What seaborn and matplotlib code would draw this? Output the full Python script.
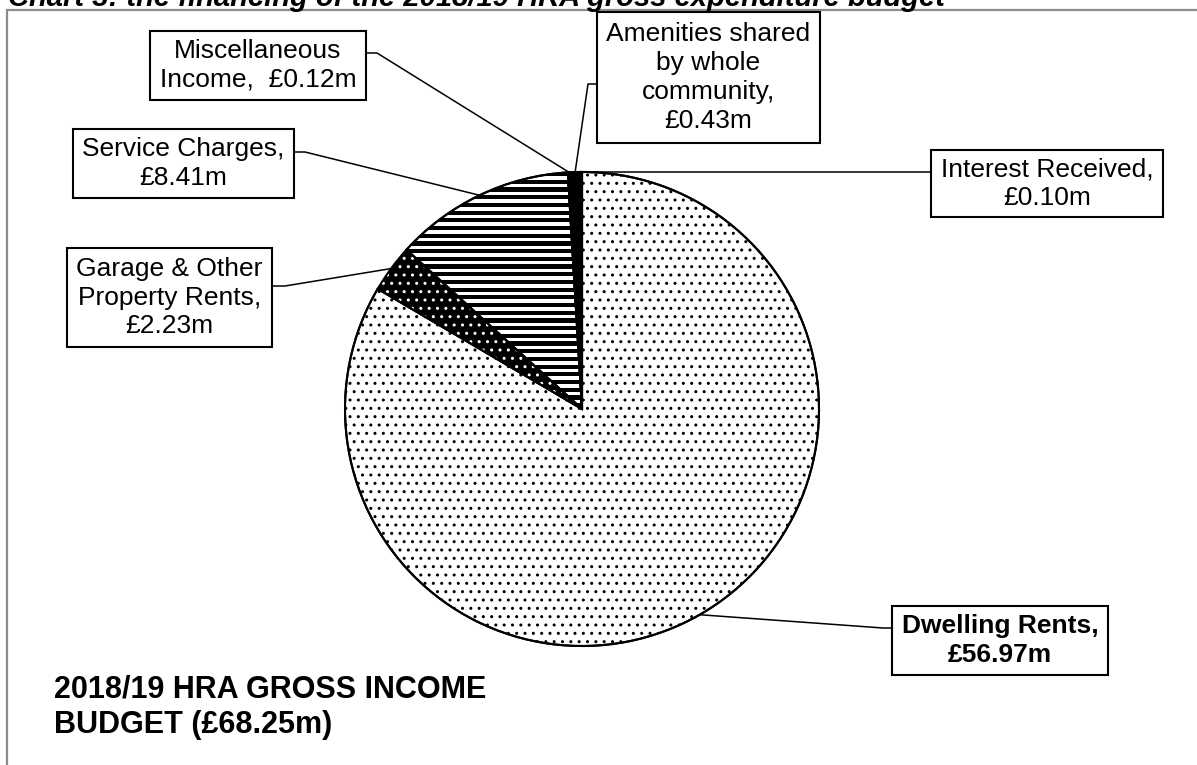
import numpy as np
import matplotlib
matplotlib.use("Agg")
import matplotlib.pyplot as plt
import seaborn as sns
from matplotlib.patches import Rectangle

# data (£m)
categories = ['Dwelling Rents', 'Garage & Other Property Rents', 'Service Charges',
              'Miscellaneous Income', 'Amenities shared by whole community', 'Interest Received']
values = [56.97, 2.23, 8.41, 0.12, 0.43, 0.10]
label_texts = ['Dwelling Rents,\n£56.97m',
               'Garage & Other\nProperty Rents,\n£2.23m',
               'Service Charges,\n£8.41m',
               'Miscellaneous\nIncome,  £0.12m',
               'Amenities shared\nby whole\ncommunity,\n£0.43m',
               'Interest Received,\n£0.10m']
total_label = '2018/19 HRA GROSS INCOME\nBUDGET (£68.25m)'
chart_title = 'Chart 3: the financing of the 2018/19 HRA gross expenditure budget'

sns.set_theme(style='white')
plt.rcParams['font.family'] = ['Liberation Sans', 'DejaVu Sans']
plt.rcParams['text.color'] = 'black'

W, H = 1197, 765
fig = plt.figure(figsize=(W / 100, H / 100), dpi=100)
ax = fig.add_axes([0, 0, 1, 1])

# pie, drawn in pixel-like data coords (y up)
cx, cy, r = 582, H - 409, 237
wedges, _ = ax.pie(values, startangle=90, counterclock=False, center=(cx, cy), radius=r,
                   wedgeprops=dict(edgecolor='black', linewidth=1.5))

# dwelling: black dots on white; garage: white dots on black; rest solid black
wedges[0].set_facecolor('white'); wedges[0].set_edgecolor('black'); wedges[0].set_hatch('..')
wedges[1].set_facecolor('black'); wedges[1].set_edgecolor('white'); wedges[1].set_hatch('..')
wedges[1].set_linewidth(0)
wedges[2].set_facecolor('white'); wedges[2].set_edgecolor('black')
for w in wedges[3:]:
    w.set_facecolor('black'); w.set_edgecolor('black')

# service charges: thick horizontal stripes clipped to its wedge
for ys in np.arange(cy - r, cy + r, 7.7):
    stripe = Rectangle((cx - r, ys), 2 * r, 4.2, fc='black', ec='none', zorder=wedges[2].get_zorder())
    ax.add_patch(stripe)
    stripe.set_clip_path(wedges[2])
# redraw outline on top
ax.pie(values, startangle=90, counterclock=False, center=(cx, cy), radius=r,
       wedgeprops=dict(fill=False, edgecolor='black', linewidth=1.5))

# label boxes: (left, top, right, bottom), connector start and elbow (pixels, y down)
boxes = [(892, 606, 1108, 675), (67, 248, 272, 347), (73, 129, 294, 198),
         (150, 31, 366, 100), (597, 12, 820, 143), (931, 150, 1163, 217)]
starts = [(892, 628), (272, 286), (294, 152), (366, 53), (597, 84), (931, 172)]
elbows = [(883, 628), (285, 286), (305, 152), (377, 53), (588, 84), None]

for i, w in enumerate(wedges):
    mid = np.deg2rad((w.theta1 + w.theta2) / 2)
    px, py = cx + r * np.cos(mid), cy + r * np.sin(mid)
    l, t, rr, b = boxes[i]
    ax.add_patch(Rectangle((l, H - b), rr - l, b - t, fc='white', ec='black', lw=1.5, zorder=5))
    ax.text((l + rr) / 2, H - (t + b) / 2, label_texts[i], ha='center', va='center',
            fontsize=19, linespacing=1.25, zorder=6,
            fontweight='bold' if i == 0 else 'normal')
    xs, ys = [starts[i][0]], [H - starts[i][1]]
    if elbows[i]:
        xs.append(elbows[i][0]); ys.append(H - elbows[i][1])
    xs.append(px); ys.append(py)
    ax.plot(xs, ys, color='black', lw=1.1, zorder=4)

ax.text(54, H - 674, total_label, fontsize=22, fontweight='bold', va='top',
        ha='left', linespacing=1.25, multialignment='left')

# outer frame and clipped top title
ax.add_patch(Rectangle((7, -20), W + 20, H - 10 + 20, fc='none', ec='#8c8c8c', lw=1.6,
                       zorder=1, clip_on=False))
ax.text(8, H - 6, chart_title, fontsize=21, fontweight='bold', fontstyle='italic',
        va='baseline', ha='left', clip_on=False)

ax.set_xlim(0, W)
ax.set_ylim(0, H)
ax.set_aspect('auto')
ax.axis('off')
fig.savefig('out.png', dpi=100)
